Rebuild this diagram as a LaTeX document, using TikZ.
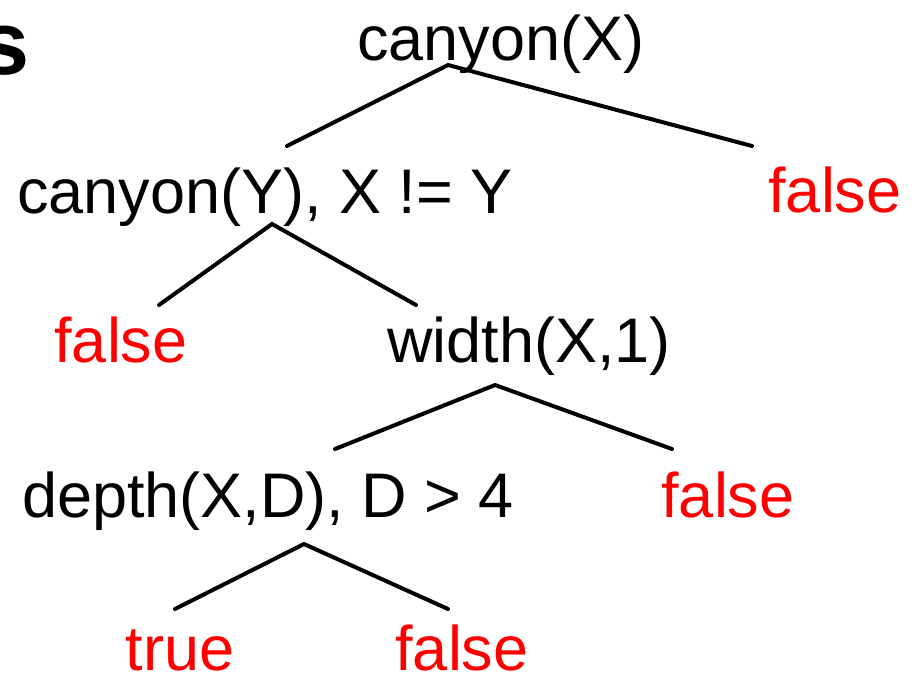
\documentclass[tikz,border=0pt]{standalone}
\usepackage{fontspec}
\setmainfont{Liberation Sans}
\begin{document}
\begin{tikzpicture}[x=1pt,y=-1pt,
  term/.style={inner sep=0pt, outer sep=0pt, anchor=base, font=\fontsize{63}{70}\selectfont},
  goal/.style={term, text=black},
  fail/.style={term, text=red},
  branch/.style={line width=4pt, line cap=round, line join=miter}]
  \useasboundingbox (0,0) rectangle (916,674);
  \clip (0,0) rectangle (916,674);

  % heading letter cut by the left edge
  \node[inner sep=0pt, anchor=base west, font=\fontsize{90}{100}\selectfont\bfseries] (head) at (-21,75) {s};

  % goals and outcomes of the search tree
  \node[goal] (root) at (501,61)  {canyon(X)};
  \node[goal] (g1)   at (265,213) {canyon(Y), X != Y};
  \node[fail] (f1)   at (835,212) {false};
  \node[fail] (f2)   at (121,362) {false};
  \node[goal] (g2)   at (529,362) {width(X,1)};
  \node[goal] (g3)   at (268,517) {depth(X,D), D > 4};
  \node[fail] (f3)   at (728,517) {false};
  \node[fail] (t1)   at (180,670) {true};
  \node[fail] (f4)   at (462,670) {false};

  % branch points
  \coordinate (r0) at (448,65);
  \coordinate (r1) at (287,146);
  \coordinate (r2) at (752,146);
  \coordinate (a0) at (272,224);
  \coordinate (a1) at (159,305);
  \coordinate (a2) at (416,305);
  \coordinate (b0) at (495,385);
  \coordinate (b1) at (335,449);
  \coordinate (b2) at (672,449);
  \coordinate (c0) at (304,544);
  \coordinate (c1) at (175,609);
  \coordinate (c2) at (448,609);

  \draw[branch] (r1) -- (r0) -- (r2);
  \draw[branch] (a1) -- (a0) -- (a2);
  \draw[branch] (b1) -- (b0) -- (b2);
  \draw[branch] (c1) -- (c0) -- (c2);
\end{tikzpicture}
\end{document}
